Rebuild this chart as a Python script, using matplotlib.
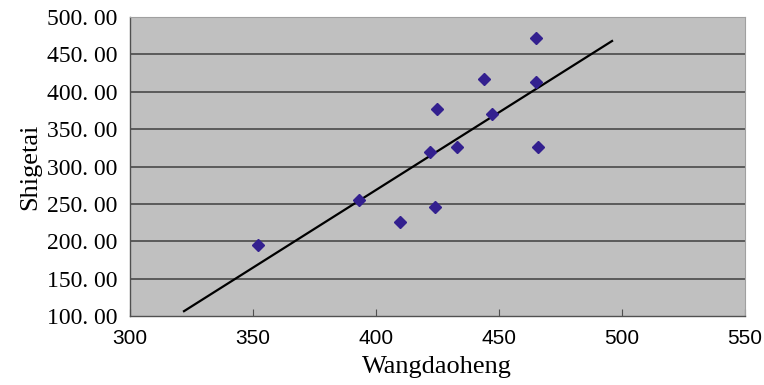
import numpy as np
import matplotlib
matplotlib.use("Agg")
import matplotlib.pyplot as plt
from matplotlib.ticker import FuncFormatter

# Wangdaoheng vs Shigetai values
wangdaoheng = [465, 444, 465, 425, 447, 422, 433, 466, 393, 424, 410, 352]
shigetai = [471.5, 416.6, 413, 377, 370.6, 319, 326, 326, 255.2, 245.4, 225.3, 195]

x_ticks = [300, 350, 400, 450, 500, 550]
y_ticks = [100, 150, 200, 250, 300, 350, 400, 450, 500]

fig = plt.figure(figsize=(7.64, 3.85), dpi=100)
ax = fig.add_axes([0.170, 0.179, 0.805, 0.777])
ax.set_facecolor("#c0c0c0")

for yv in y_ticks[1:-1]:
    ax.axhline(yv, color="#4a4a4a", lw=1.2, zorder=1)

ax.plot(wangdaoheng, shigetai, "D", color="#33208f", ms=6.5, zorder=3)

# linear trendline, extended 30 units both ways like a spreadsheet forecast
z = np.polyfit(wangdaoheng, shigetai, 1)
p = np.poly1d(z)
xs = np.array([min(wangdaoheng) - 30, max(wangdaoheng) + 30])
ax.plot(xs, p(xs), color="black", lw=1.6, zorder=2)

ax.set_xlim(300, 550)
ax.set_ylim(100, 500)
ax.set_xticks(x_ticks)
ax.set_yticks(y_ticks)
ax.get_yaxis().set_major_formatter(FuncFormatter(lambda v, pos: "{:.2f}".format(v).replace(".", ". ")))

for s in ["top", "right"]:
    ax.spines[s].set_color("#a0a0a0")
    ax.spines[s].set_linewidth(0.8)
for s in ["left", "bottom"]:
    ax.spines[s].set_color("#505050")
    ax.spines[s].set_linewidth(1.0)

ax.tick_params(axis="x", direction="in", length=5, color="#505050", pad=9)
ax.tick_params(axis="y", length=0, pad=9)
for lab in ax.get_xticklabels():
    lab.set_fontfamily("Liberation Sans")
    lab.set_fontsize(15)
for lab in ax.get_yticklabels():
    lab.set_fontfamily("Liberation Serif")
    lab.set_fontsize(17)

ax.set_xlabel("Wangdaoheng", family="Liberation Serif", fontsize=19, labelpad=6)
ax.set_ylabel("Shigetai", family="Liberation Serif", fontsize=19, labelpad=4)

fig.savefig("out.png", dpi=100)
